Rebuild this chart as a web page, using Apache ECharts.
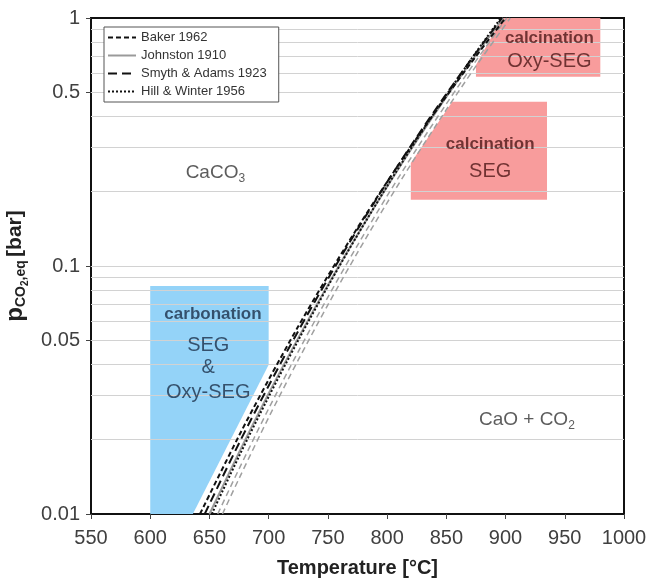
<!DOCTYPE html>
<html><head><meta charset="utf-8">
<script src="https://cdn.jsdelivr.net/npm/echarts@6/dist/echarts.min.js"></script>
<style>html,body{margin:0;padding:0;background:#fff}#c{width:646px;height:580px}</style>
</head><body><div id="c"></div>
<script>
const FONT = '"Liberation Sans", Arial, sans-serif';

// ---- axis ticks ----
const yTickValues = [0.01, 0.05, 0.1, 0.5, 1];
const gridValues = [0.02, 0.03, 0.04, 0.05, 0.06, 0.07, 0.08, 0.09, 0.1,
                    0.2, 0.3, 0.4, 0.5, 0.6, 0.7, 0.8, 0.9];

// ---- equilibrium curves (T in °C, p in bar) ----
const bakerT = [642, 675, 700, 725, 750, 775, 800, 825, 850, 875, 900];
const bakerP = [0.01, 0.0207, 0.0348, 0.0571, 0.0912, 0.1426, 0.2183, 0.3278, 0.4831, 0.7007, 1.0];

const johnstonT = [650, 675, 700, 725, 750, 775, 800, 825, 850, 875, 898];
const johnstonP = [0.01, 0.0177, 0.0306, 0.0513, 0.0838, 0.1338, 0.2090, 0.3199, 0.4806, 0.7093, 1.0];

const smythT = [646, 675, 700, 725, 750, 775, 800, 825, 850, 875, 897];
const smythP = [0.01, 0.0193, 0.0329, 0.0547, 0.0887, 0.1405, 0.2178, 0.3311, 0.4937, 0.7239, 1.0];

const hillT = [652, 675, 700, 725, 750, 775, 800, 825, 850, 875, 896];
const hillP = [0.01, 0.0171, 0.0297, 0.0502, 0.0828, 0.1332, 0.2097, 0.3233, 0.4892, 0.7267, 1.0];

const grayAT = [657, 675, 700, 725, 750, 775, 800, 825, 850, 875, 901];
const grayAP = [0.01, 0.0152, 0.0266, 0.0452, 0.0749, 0.1212, 0.1916, 0.2969, 0.4505, 0.6720, 1.0];

const grayBT = [661, 675, 700, 725, 750, 775, 800, 825, 850, 875, 904];
const grayBP = [0.01, 0.0139, 0.0245, 0.0418, 0.0697, 0.1132, 0.1798, 0.2798, 0.4268, 0.6394, 1.0];

// ---- process regions (polygon vertices) ----
const carbonationT = [600, 600, 700, 700, 636];
const carbonationP = [0.01, 0.083, 0.083, 0.04, 0.01];
const calcSegT = [820, 820, 855, 935, 935];
const calcSegP = [0.185, 0.26, 0.46, 0.46, 0.185];
const calcOxyT = [875, 875, 897, 980, 980];
const calcOxyP = [0.58, 0.646, 1, 1, 0.58];

// ---- annotation anchors ----
const annoText = ['{n|CaCO}{s|3}', '{n|CaO + CO}{s|2}',
  '{cb|calcination}', '{cn|Oxy-SEG}', '{cb|calcination}', '{cn|SEG}',
  '{bb|carbonation}', '{bn|SEG}', '{bn|&}', '{bn|Oxy-SEG}'];
const annoT = [655, 918, 937, 937, 887, 887, 653, 649, 649, 649];
const annoP = [0.237, 0.024, 0.83, 0.665, 0.31, 0.2415, 0.064, 0.048, 0.0388, 0.0308];

const legendNames = ['Baker 1962', 'Johnston 1910', 'Smyth & Adams 1923', 'Hill & Winter 1956'];

const zip = (a, b) => a.map((v, i) => [v, b[i]]);

function curve(name, T, P, color, type, width) {
  return {
    name, type: 'line', data: zip(T, P), symbol: 'none',
    smooth: 0.3, z: 5,
    lineStyle: { color, type, width }, itemStyle: { color }, silent: true
  };
}
function poly(name, T, P, color) {
  return {
    name, type: 'custom', z: 2, silent: true, data: zip(T, P),
    renderItem(params, api) {
      if (params.dataIndex !== 0) return null;
      const pts = T.map((t, i) => api.coord([t, P[i]]));
      return { type: 'polygon', shape: { points: pts }, style: { fill: color } };
    }
  };
}

const rich = {
  n: { fontSize: 19, color: '#333', fontFamily: FONT },
  s: { fontSize: 12, color: '#333', fontFamily: FONT, padding: [12, 0, 0, 0] },
  cb: { fontSize: 17, fontWeight: 'bold', color: '#4e1818', fontFamily: FONT },
  cn: { fontSize: 20, color: '#4e1818', fontFamily: FONT },
  bb: { fontSize: 17, fontWeight: 'bold', color: '#1c3048', fontFamily: FONT },
  bn: { fontSize: 20, color: '#1c3048', fontFamily: FONT }
};

const chart = echarts.init(document.getElementById('c'), null, { renderer: 'canvas' });
chart.setOption({
  animation: false,
  backgroundColor: '#fff',
  grid: { left: 91, right: 22, top: 18, bottom: 66, outerBoundsMode: 'none', containLabel: false,
    show: true, borderColor: '#111', borderWidth: 2, backgroundColor: 'transparent' },
  legend: {
    data: legendNames.map(n => ({ name: n, itemStyle: { opacity: 0 } })),
    orient: 'vertical', left: 104, top: 27, padding: [4, 12, 4, 3], itemGap: 5,
    itemWidth: 28, itemHeight: 14, borderColor: '#555', borderWidth: 1, backgroundColor: '#fff',
    itemStyle: { opacity: 0 },
    textStyle: { fontSize: 13, color: '#333', fontFamily: FONT }, z: 10
  },
  xAxis: {
    type: 'value', min: 550, max: 1000, interval: 50,
    name: 'Temperature [°C]', nameLocation: 'middle', nameGap: 44,
    nameTextStyle: { fontSize: 20, fontWeight: 'bold', color: '#222', fontFamily: FONT },
    axisLine: { lineStyle: { color: '#111', width: 2 } },
    axisTick: { show: true, length: 5, lineStyle: { color: '#444' } },
    axisLabel: { fontSize: 20, color: '#404040', margin: 14, fontFamily: FONT,
      formatter: v => String(v) },
    splitLine: { show: false }
  },
  yAxis: {
    type: 'log', logBase: 10, min: 0.01, max: 1,
    name: '{p|p}{sub|CO}{sub2|2}{sub|,eq} {b|[bar]}', nameLocation: 'middle', nameGap: 54,
    nameTextStyle: {
      rich: {
        p: { fontSize: 24, fontWeight: 'bold', color: '#222', fontFamily: FONT },
        sub: { fontSize: 14, fontWeight: 'bold', color: '#222', fontFamily: FONT, padding: [12, 0, 0, 0] },
        sub2: { fontSize: 10, fontWeight: 'bold', color: '#222', fontFamily: FONT, padding: [20, 0, 0, 0] },
        b: { fontSize: 21, fontWeight: 'bold', color: '#222', fontFamily: FONT }
      }
    },
    axisLine: { show: true, lineStyle: { color: '#111', width: 2 } },
    axisTick: { show: true, length: 5, customValues: yTickValues, lineStyle: { color: '#444' } },
    axisLabel: { fontSize: 20, color: '#404040', margin: 11, fontFamily: FONT, customValues: yTickValues,
      formatter: v => String(+(+v).toPrecision(3)) },
    splitLine: { show: false }
  },
  series: [
    {
      name: 'grid', type: 'line', data: [], silent: true, z: 1,
      markLine: {
        silent: true, symbol: 'none', label: { show: false },
        lineStyle: { color: '#d2d2d2', width: 1, type: 'solid' },
        data: gridValues.map(v => ({ yAxis: v }))
      }
    },
    poly('carbonation', carbonationT, carbonationP, '#94d3f8'),
    poly('calcSEG', calcSegT, calcSegP, '#f89c9c'),
    poly('calcOxy', calcOxyT, calcOxyP, '#f89c9c'),
    curve('grayA', grayAT, grayAP, '#a0a0a0', [6, 4], 1.5),
    curve('grayB', grayBT, grayBP, '#a0a0a0', [6, 4], 1.5),
    curve('Johnston 1910', johnstonT, johnstonP, '#9a9a9a', 'solid', 2),
    curve('Hill & Winter 1956', hillT, hillP, '#111', [2, 2], 2),
    curve('Smyth & Adams 1923', smythT, smythP, '#111', [9, 5], 2),
    curve('Baker 1962', bakerT, bakerP, '#111', [5, 3], 2),
    {
      name: 'annotations', type: 'scatter', symbolSize: 0, silent: true, z: 6,
      data: annoT.map((t, i) => ({ value: [t, annoP[i]], label: { formatter: annoText[i] } })),
      label: { show: true, position: 'inside', rich }
    }
  ]
});
</script></body></html>
